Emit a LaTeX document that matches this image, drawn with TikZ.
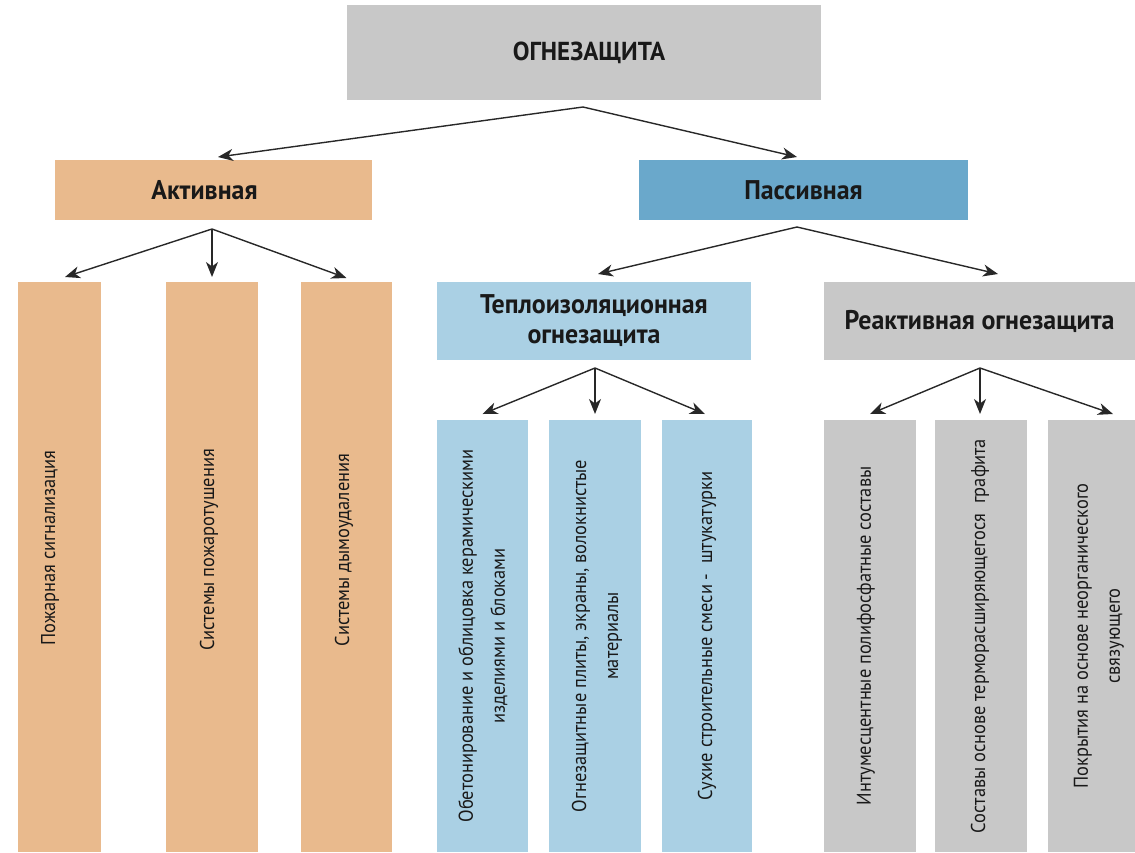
\documentclass[tikz,border=0pt]{standalone}
\usepackage{fontspec}
\setmainfont[FakeStretch=0.92]{PT Sans}
\newfontfamily\hdrfont[FakeStretch=0.96]{PT Sans}
\usetikzlibrary{arrows.meta}
\definecolor{peach}{RGB}{233,186,141}
\definecolor{pblue}{RGB}{106,168,203}
\definecolor{lblue}{RGB}{170,208,228}
\definecolor{lgrey}{RGB}{200,200,200}
\definecolor{ink}{RGB}{25,25,25}
\definecolor{arrowc}{RGB}{40,40,40}
\tikzset{
  box/.style={anchor=north west, inner sep=0pt, outer sep=0pt, text=ink, align=center},
  hdr/.style={box, font=\hdrfont\fontsize{27}{30}\selectfont\bfseries},
  vtext/.style={rotate=90, text=ink, align=center, inner sep=0pt, font=\fontsize{20}{32}\selectfont},
  arr/.style={draw=arrowc, line width=1.4pt, -{Stealth[length=15pt,width=12pt,inset=4.5pt]}}
}
\begin{document}
\begin{tikzpicture}[x=1pt,y=-1pt]
\useasboundingbox (0,0) rectangle (1135,852);
% top
\node[hdr, fill=lgrey, minimum width=474pt, minimum height=95pt, font=\hdrfont\fontsize{26}{30}\selectfont\bfseries] (root) at (347,5) {\hspace*{10pt}ОГНЕЗАЩИТА};
\node[hdr, fill=peach, minimum width=317pt, minimum height=60pt] (act) at (55,160) {Активная\hspace*{18pt}};
\node[hdr, fill=pblue, minimum width=329pt, minimum height=60pt] (pas) at (639,160) {Пассивная};
% active children
\node[box, fill=peach, minimum width=83pt, minimum height=570pt] (a1) at (18,282) {};
\node[box, fill=peach, minimum width=92pt, minimum height=570pt] (a2) at (166,282) {};
\node[box, fill=peach, minimum width=91pt, minimum height=570pt] (a3) at (301,282) {};
\node[vtext] (a1t) at (50,548) {Пожарная сигнализация};
\node[vtext] (a2t) at (209,550) {Системы пожаротушения};
\node[vtext] (a3t) at (344,550) {Системы дымоудаления};
% passive children
\node[hdr, fill=lblue, minimum width=314pt, minimum height=78pt, font=\hdrfont\fontsize{27}{30}\selectfont\bfseries] (tep) at (437,282) {Теплоизоляционная\\огнезащита};
\node[hdr, fill=lgrey, minimum width=311pt, minimum height=78pt] (rea) at (824,282) {Реактивная огнезащита};
\node[box, fill=lblue, minimum width=91pt, minimum height=432pt] (t1) at (437,420) {};
\node[box, fill=lblue, minimum width=92pt, minimum height=432pt] (t2) at (549,420) {};
\node[box, fill=lblue, minimum width=90pt, minimum height=432pt] (t3) at (662,420) {};
\node[box, fill=lgrey, minimum width=92pt, minimum height=432pt] (r1) at (824,420) {};
\node[box, fill=lgrey, minimum width=92pt, minimum height=432pt] (r2) at (935,420) {};
\node[box, fill=lgrey, minimum width=87pt, minimum height=432pt] (r3) at (1048,420) {};
\node[vtext] (t1t) at (483,636) {Обетонирование и облицовка керамическими\\изделиями и блоками};
\node[vtext] (t2t) at (597,636) {Огнезащитные плиты, экраны, волокнистые\\материалы};
\node[vtext] (t3t) at (707,636) {Сухие строительные смеси -\ \ штукатурки};
\node[vtext] (r1t) at (866,636) {Интумесцентные полифосфатные составы};
\node[vtext] (r2t) at (980,636) {Составы основе терморасширяющегося\ \ графита};
\node[vtext] (r3t) at (1099,636) {Покрытия на основе неорганического\\связующего};
% apex coordinates
\coordinate (root-o) at (583,107);
\coordinate (act-o) at (212,229);
\coordinate (pas-o) at (797,227);
\coordinate (tep-o) at (595,368);
\coordinate (rea-o) at (980,368);
% arrows
\draw[arr] (root-o) -- ([xshift=4.5pt,yshift=3pt]act.north);
\draw[arr] (root-o) -- ([xshift=-6.5pt,yshift=3pt]pas.north);
\draw[arr] (act-o) -- ([xshift=5.5pt,yshift=5pt]a1.north);
\draw[arr] (act-o) -- ([yshift=5pt]a2.north);
\draw[arr] (act-o) -- ([yshift=4pt]a3.north);
\draw[arr] (pas-o) -- ([xshift=4pt,yshift=8pt]tep.north);
\draw[arr] (pas-o) -- ([xshift=18.5pt,yshift=8pt]rea.north);
\draw[arr] (tep-o) -- ([yshift=6pt]t1.north);
\draw[arr] (tep-o) -- ([yshift=6pt]t2.north);
\draw[arr] (tep-o) -- ([xshift=-2pt,yshift=6pt]t3.north);
\draw[arr] (rea-o) -- ([yshift=6pt]r1.north);
\draw[arr] (rea-o) -- ([xshift=-1pt,yshift=6pt]r2.north);
\draw[arr] (rea-o) -- ([xshift=21.5pt,yshift=6pt]r3.north);
\end{tikzpicture}
\end{document}
